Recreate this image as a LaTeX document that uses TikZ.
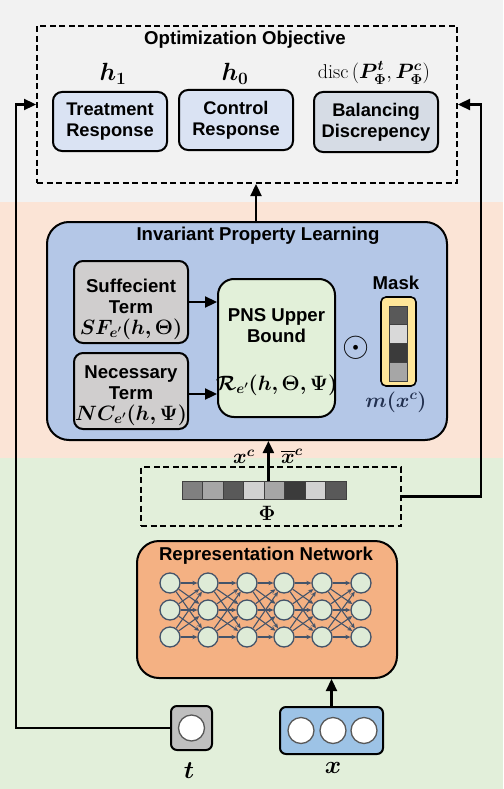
\documentclass[tikz,border=0pt]{standalone}
\usepackage{fontspec}
\setsansfont{Liberation Sans}
\usepackage{amsmath}
\usepackage{bm}
\usepackage{xcolor}
\usepackage{tikz}
\usetikzlibrary{arrows.meta,shapes,positioning}

\definecolor{bandgray}{HTML}{F2F2F2}
\definecolor{bandpeach}{HTML}{FBE4D6}
\definecolor{bandgreen}{HTML}{E2EFDA}
\definecolor{respblue}{HTML}{DAE3F3}
\definecolor{discgray}{HTML}{D6DCE5}
\definecolor{iplblue}{HTML}{B4C7E7}
\definecolor{termgray}{HTML}{D0CECE}
\definecolor{pnsgreen}{HTML}{E2F0D9}
\definecolor{maskyellow}{HTML}{FFE699}
\definecolor{netorange}{HTML}{F4B183}
\definecolor{netline}{HTML}{44546A}
\definecolor{neurongreen}{HTML}{DEEBD7}
\definecolor{tgray}{HTML}{BFBFBF}
\definecolor{inblue}{HTML}{9DC3E6}
\definecolor{mathnavy}{HTML}{22304F}

\begin{document}
\begin{tikzpicture}[
	x=1pt, y=-1pt,
	>={Triangle[length=12pt,width=11pt]},
	box/.style={
		draw, line width=2pt, rounded corners=9pt, align=center,
		inner sep=0pt, font=\sffamily\bfseries\fontsize{18.3}{21}\selectfont
	},
	dashbox/.style={
		draw, line width=2pt, dash pattern=on 6pt off 3.5pt, inner sep=0pt
	},
	heading/.style={
		align=center, inner sep=0pt,
		font=\sffamily\bfseries\fontsize{18.6}{21}\selectfont
	},
	mathlbl/.style={inner sep=0pt, font=\fontsize{24}{26}\selectfont},
	formula/.style={inner sep=0pt, font=\fontsize{20}{22}\selectfont},
	neuron/.style={
		circle, draw=netline, fill=neurongreen, line width=1.3pt,
		minimum size=20pt, inner sep=0pt
	},
	netedge/.style={
		draw=netline, line width=1.1pt, -{Stealth[length=5pt,width=4.5pt]}
	},
	bit/.style={
		circle, draw=black!65, fill=white, line width=1.3pt,
		minimum size=26pt, inner sep=0pt
	},
	cell/.style={
		draw=black!75, line width=0.8pt, minimum width=20.5pt,
		minimum height=18pt, inner sep=0pt
	},
	link/.style={line width=2.3pt, ->}
]
\useasboundingbox (0,0) rectangle (503,789);
\fill[bandgray] (0,0) rectangle (503,202);
\fill[bandpeach] (0,202) rectangle (503,458);
\fill[bandgreen] (0,458) rectangle (503,789);

\node[dashbox, minimum width=420pt, minimum height=157pt] (obj) at (247,104.5) {};
\node[heading] (objtitle) at (245,40) {Optimization Objective};
\node[box, fill=respblue, minimum width=114pt, minimum height=59pt] (treat) at (110,121.5) {Treatment\\Response};
\node[box, fill=respblue, minimum width=114pt, minimum height=60pt] (ctrl) at (236,120) {Control\\Response};
\node[box, fill=discgray, minimum width=124pt, minimum height=60pt] (disc) at (376,122) {Balancing\\Discrepency};
\node[mathlbl] (h1) at (113,74) {$\bm{h_1}$};
\node[mathlbl] (h0) at (235,74) {$\bm{h_0}$};
\node[formula] (disclbl) at (374,73) {$\operatorname{disc}\left(\bm{P_\Phi^t},\bm{P_\Phi^c}\right)$};

\node[box, fill=iplblue, rounded corners=22pt, minimum width=400pt, minimum height=218pt] (ipl) at (247,331) {};
\node[heading] (ipltitle) at (258,236) {Invariant Property Learning};
\node[box, fill=termgray, minimum width=114pt, minimum height=82pt] (suff) at (131,302) {};
\node[heading] (sufftext) at (131,296) {Suffecient\\Term};
\node[formula] (suffmath) at (131,329) {$\bm{SF_{e'}(h,\Theta)}$};
\node[box, fill=termgray, minimum width=114pt, minimum height=76pt] (nec) at (131,391) {};
\node[heading] (nectext) at (131,383) {Necessary\\Term};
\node[formula] (necmath) at (131,415) {$\bm{NC_{e'}(h,\Psi)}$};
\node[box, fill=pnsgreen, rounded corners=16pt, minimum width=117pt, minimum height=138pt] (pns) at (276.5,348) {};
\node[heading] (pnstext) at (276.5,326) {PNS Upper\\Bound};
\node[formula] (pnsmath) at (276.5,385) {$\bm{\mathcal{R}_{e'}(h,\Theta,\Psi)}$};
\node[inner sep=0pt, font=\fontsize{24}{26}\selectfont] (odot) at (356,348) {\scalebox{1.4}{$\odot$}};
\node[heading] (masklbl) at (396,283) {Mask};
\node[draw, line width=1.6pt, fill=maskyellow, rounded corners=5pt, minimum width=35pt, minimum height=89pt, inner sep=0pt] (mask) at (398.5,341.5) {};
\foreach \c [count=\i] in {black!65,black!15,black!77,black!35}
	\node[cell, fill=\c, minimum width=18pt, minimum height=18.75pt] (mask-\i) at (398.5,{296.625+18.75*\i}) {};
\node[formula, text=mathnavy] (mlbl) at (396,402) {$\bm{m(x^c)}$};

\node[formula, font=\fontsize{22}{24}\selectfont] (xc) at (244,457) {$\bm{x^c}$};
\node[formula, font=\fontsize{22}{24}\selectfont] (xcbar) at (292,456) {$\bm{\overline{x}^c}$};
\node[dashbox, minimum width=260pt, minimum height=59pt] (phi) at (271,496.5) {};
\foreach \c [count=\i] in {black!50,black!35,black!65,black!18,black!35,black!77,black!18,black!65}
	\node[cell, fill=\c] (strip-\i) at ({171.75+20.5*\i},490) {};
\node[formula] (philbl) at (267,513) {$\bm{\Phi}$};

\node[box, fill=netorange, rounded corners=22pt, minimum width=260pt, minimum height=137pt] (rep) at (267,609.5) {};
\node[heading] (reptitle) at (266,556) {Representation Network};
\foreach \col [count=\i] in {170,208,247,284,322,361}
	\foreach \row [count=\j] in {583,610,637}
		\node[neuron] (n-\i-\j) at (\col,\row) {};
\foreach \i [evaluate=\i as \k using int(\i+1)] in {1,...,5}
	\foreach \j in {1,2,3}
		\foreach \l in {1,2,3}
			\draw[netedge] (n-\i-\j) -- (n-\k-\l);

\node[box, fill=tgray, rounded corners=6pt, minimum width=41pt, minimum height=44pt] (tbox) at (191.5,728) {};
\node[bit] (tbit) at (tbox) {};
\node[inner sep=0pt, font=\fontsize{28}{30}\selectfont] (tlbl) at (189,771) {$\bm{t}$};
\node[box, fill=inblue, rounded corners=6pt, minimum width=103pt, minimum height=47pt] (xin) at (331.5,730.5) {};
\foreach \bx [count=\i] in {301,333,364}
	\node[bit] (xbit-\i) at (\bx,730.5) {};
\node[inner sep=0pt, font=\fontsize{28}{30}\selectfont] (xlbl) at (333,768) {$\bm{x}$};

\draw[link] (xin.north) -- (xin.north |- rep.south);
\draw[link] ([xshift=9pt]ipl.north) -- ([xshift=9pt]obj.south);
\draw[link] (tbox.west) -| ([xshift=-20pt]obj.west) -- (obj.west);
\draw[link] (phi.east) -| ([xshift=23pt]obj.east) -- (obj.east);
\draw[link] (suff.east) -- (suff.east -| pns.west);
\draw[link] ([yshift=-3pt]nec.east) -- ([yshift=-3pt]nec.east -| pns.west);
\draw[link] ([xshift=4pt]strip-4.north east) -- ([xshift=4pt]strip-4.north east |- ipl.south);
\end{tikzpicture}
\end{document}
